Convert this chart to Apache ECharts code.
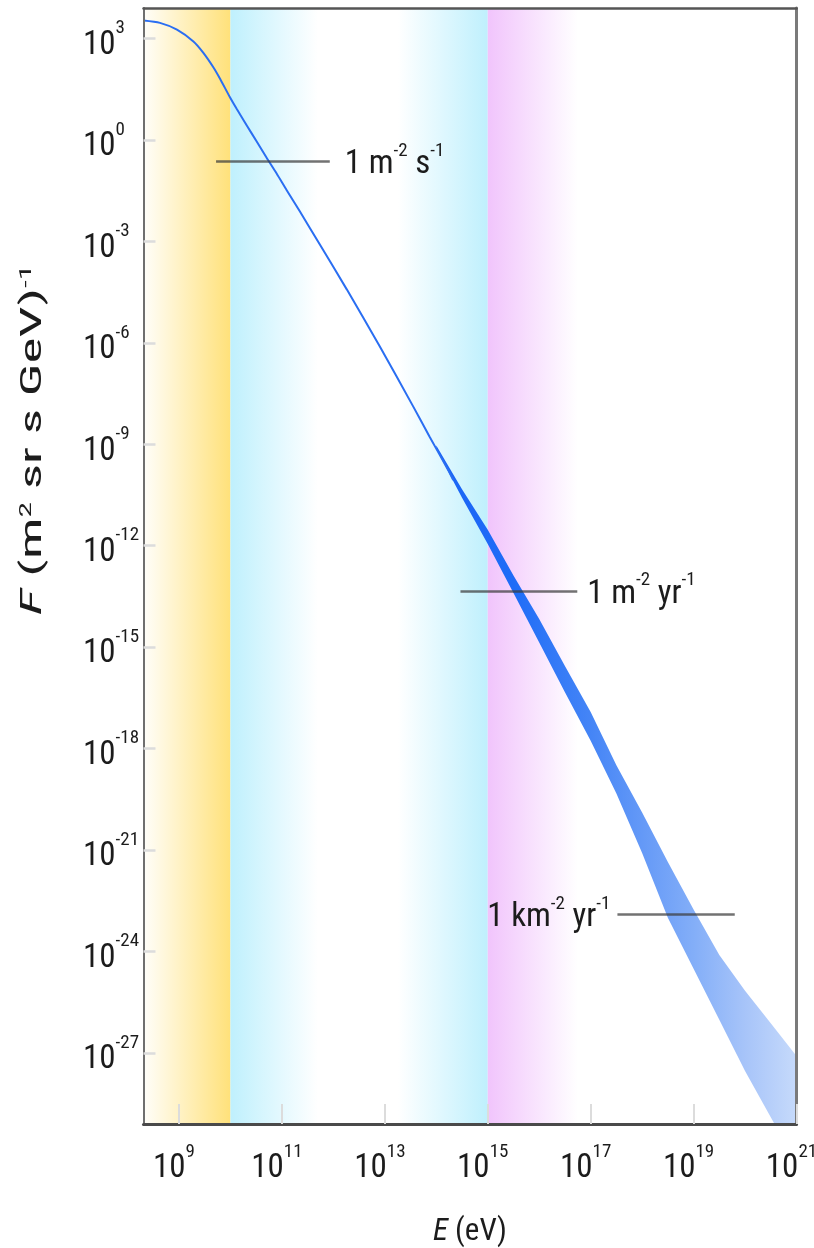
<!DOCTYPE html>
<html>
<head>
<meta charset="utf-8">
<script src="https://cdn.jsdelivr.net/npm/echarts@6/dist/echarts.min.js"></script>
<style>
  html, body { margin: 0; padding: 0; background: #fff; overflow: hidden; }
  #chart { width: 814px; height: 1248px; }
</style>
</head>
<body>
<div id="chart"></div>
<script>
// All values are log10: energy E in eV, flux F in (m^2 sr s GeV)^-1

// low-energy spectrum (thin curve)
const energyExp = [8.31, 8.63, 8.96, 9.28, 9.47, 9.67, 9.80, 9.99, 10.12, 10.32, 10.51, 10.70,
                   10.90, 11.09, 11.35, 11.74, 12.26, 12.90, 13.55, 13.87, 14.23, 14.33];
const fluxExp   = [3.53, 3.46, 3.26, 2.91, 2.58, 2.14, 1.80, 1.26, 0.92, 0.42, -0.05, -0.52,
                   -1.00, -1.48, -2.12, -3.10, -4.42, -6.10, -7.88, -8.78, -9.76, -10.06];

// high-energy spectrum with its uncertainty band
const bandEnergyExp = [14.0, 14.5, 15.0, 15.5, 16.0, 16.5, 17.0, 17.5, 18.0, 18.5, 19.0, 19.5, 20.0, 20.5, 21.0];
const bandUpperExp  = [-9.04, -10.33, -11.53, -12.88, -14.17, -15.56, -16.92, -18.49, -19.89, -21.35,
                       -22.76, -24.10, -25.16, -26.12, -27.09];
const bandLowerExp  = [-9.14, -10.58, -11.95, -13.40, -14.86, -16.33, -17.77, -19.33, -21.09, -23.00,
                       -24.51, -26.02, -27.53, -28.90, -30.26];

// reference flux levels
const markerText = ['{b|1 m}{s|-2}{b| s}{s|-1}', '{b|1 m}{s|-2}{b| yr}{s|-1}', '{b|1 km}{s|-2}{b| yr}{s|-1}'];
const markerFluxExp = [-0.64, -13.34, -22.90];
const markerFromExp = [9.72, 14.47, 17.52];
const markerToExp   = [11.93, 16.74, 19.80];

// axis ticks
const xTickExp = [9, 11, 13, 15, 17, 19, 21];
const yTickExp = [3, 0, -3, -6, -9, -12, -15, -18, -21, -24, -27];

// shaded energy regions
const regionFromExp = [8.31, 10, 13.25, 15];
const regionToExp   = [10, 11.7, 15, 16.75];
const regionColors  = [['#fffefa', '#ffe17a'], ['#bff0fd', '#ffffff'], ['#ffffff', '#bff0fd'], ['#f1c4fc', '#ffffff']];

// band colour along energy (offset 0 = 10^14 eV, 1 = 10^21 eV)
const bandStops = [[0, '#1a64f5'], [0.214, '#1f6cf7'], [0.43, '#4585f6'], [0.571, '#6499f7'],
                   [0.714, '#83aef8'], [0.857, '#a7c4f9'], [1, '#c6dafb']];

const X_MIN = 8.31, X_MAX = 21.0, Y_MIN = -29.1, Y_MAX = 3.9;
const FONT = '"Roboto Condensed", Roboto, sans-serif';
const INK = '#1c1c1c';

const powerRich = {
  b: { fontSize: 33, lineHeight: 47, verticalAlign: 'bottom', fontFamily: FONT, color: INK },
  s: { fontSize: 19, lineHeight: 19, verticalAlign: 'top', padding: [4, 0, 0, 0], fontFamily: FONT, color: INK }
};
const powerLabel = v => '{b|10}{s|' + Math.round(v) + '}';

const markerRich = {
  b: { fontSize: 33, lineHeight: 40, verticalAlign: 'bottom', fontFamily: FONT, color: INK },
  s: { fontSize: 19, lineHeight: 19, verticalAlign: 'top', fontFamily: FONT, color: INK }
};
const markerGap = [15, 10, 7];

const hGrad = (c0, c1) => new echarts.graphic.LinearGradient(0, 0, 1, 0, [
  { offset: 0, color: c0 }, { offset: 1, color: c1 }
]);

const chart = echarts.init(document.getElementById('chart'));

const option = {
  animation: false,
  backgroundColor: '#ffffff',
  grid: { left: 143.5, right: 17.5, top: 8, bottom: 124, containLabel: false, outerBoundsMode: 'none' },
  xAxis: [
    {
      type: 'value', min: X_MIN, max: X_MAX, position: 'bottom', z: 5,
      name: '{i|E} (eV)', nameLocation: 'middle', nameGap: 93,
      nameTextStyle: {
        fontSize: 31, fontFamily: FONT, color: INK,
        rich: { i: { fontSize: 31, fontStyle: 'italic', fontFamily: FONT, color: INK } }
      },
      splitLine: { show: false },
      axisLine: { show: true, onZero: false, lineStyle: { color: '#4a4a4a', width: 3 } },
      axisTick: { show: true, inside: true, length: 20, customValues: xTickExp,
                  lineStyle: { color: '#dcdcdc', width: 2 } },
      // right padding nudges each "10" so it ends near its tick, exponent after it
      axisLabel: { customValues: xTickExp, margin: 14.5, padding: [0, 10, 0, 0],
                   formatter: powerLabel, rich: powerRich }
    },
    {
      type: 'value', min: X_MIN, max: X_MAX, position: 'top', z: 5,
      splitLine: { show: false }, axisTick: { show: false }, axisLabel: { show: false },
      axisLine: { show: true, onZero: false, lineStyle: { color: '#555555', width: 2.5 } }
    }
  ],
  yAxis: [
    {
      type: 'value', min: Y_MIN, max: Y_MAX, position: 'left', z: 5,
      splitLine: { show: false },
      axisLine: { show: true, onZero: false, lineStyle: { color: '#6f6f6f', width: 2 } },
      axisTick: { show: true, inside: true, length: 12, customValues: yTickExp,
                  lineStyle: { color: '#dcdcdc', width: 2.5 } },
      axisLabel: { customValues: yTickExp, align: 'left', margin: 60.5, formatter: powerLabel, rich: powerRich }
    },
    {
      type: 'value', min: Y_MIN, max: Y_MAX, position: 'right', z: 5,
      splitLine: { show: false }, axisTick: { show: false }, axisLabel: { show: false },
      axisLine: { show: true, onZero: false, lineStyle: { color: '#7a7a7a', width: 3 } }
    }
  ],
  graphic: [
    {
      // y-axis title, stretched along its reading direction
      type: 'text', x: 33, y: 440, rotation: Math.PI / 2, scaleX: 1.85,
      style: {
        text: '{i|F} (m{s|2} sr s GeV){s|-1}',
        align: 'center', verticalAlign: 'middle',
        fontSize: 30, fontFamily: FONT, fill: INK,
        rich: {
          i: { fontSize: 30, fontStyle: 'italic', fontFamily: FONT, fill: INK },
          s: { fontSize: 17, verticalAlign: 'top', lineHeight: 17, fontFamily: FONT, fill: INK }
        }
      }
    }
  ],
  series: [
    {
      // shaded energy regions
      type: 'line', z: 1, data: [], silent: true,
      markArea: {
        silent: true,
        data: regionFromExp.map((from, i) => [
          { xAxis: from, itemStyle: { color: hGrad(regionColors[i][0], regionColors[i][1]) } },
          { xAxis: regionToExp[i] }
        ])
      }
    },
    {
      // uncertainty band as one polygon: upper edge forward, lower edge back
      name: 'band', type: 'custom', coordinateSystem: 'cartesian2d', z: 2, clip: true, silent: true,
      data: bandEnergyExp.map((e, i) => [e, bandUpperExp[i], bandLowerExp[i]]),
      encode: { x: 0, y: [1, 2] },
      renderItem: (params, api) => {
        if (params.dataIndex !== 0) return null;
        const n = params.dataInsideLength;
        const upper = [], lower = [];
        for (let k = 0; k < n; k++) {
          upper.push(api.coord([api.value(0, k), api.value(1, k)]));
          lower.push(api.coord([api.value(0, k), api.value(2, k)]));
        }
        const x0 = upper[0][0], x1 = upper[n - 1][0];
        const fill = new echarts.graphic.LinearGradient(x0, 0, x1, 0,
          bandStops.map(s => ({ offset: s[0], color: s[1] })), true);
        return {
          type: 'polygon',
          shape: { points: upper.concat(lower.reverse()) },
          style: { fill: fill, stroke: null }
        };
      }
    },
    {
      name: 'spectrum', type: 'line', z: 3, symbol: 'none', smooth: 0.25,
      lineStyle: { color: '#2a6ef2', width: 2 },
      data: energyExp.map((e, i) => [e, fluxExp[i]]),
      markLine: {
        silent: true, symbol: 'none',
        lineStyle: { color: 'rgba(60,60,60,0.72)', width: 2.5, type: 'solid' },
        data: markerFluxExp.map((f, i) => [
          {
            coord: [markerFromExp[i], f],
            label: {
              show: true, position: i === 2 ? 'start' : 'end', distance: markerGap[i],
              formatter: markerText[i], rich: markerRich
            }
          },
          { coord: [markerToExp[i], f] }
        ])
      }
    }
  ]
};

chart.setOption(option);
</script>
</body>
</html>
